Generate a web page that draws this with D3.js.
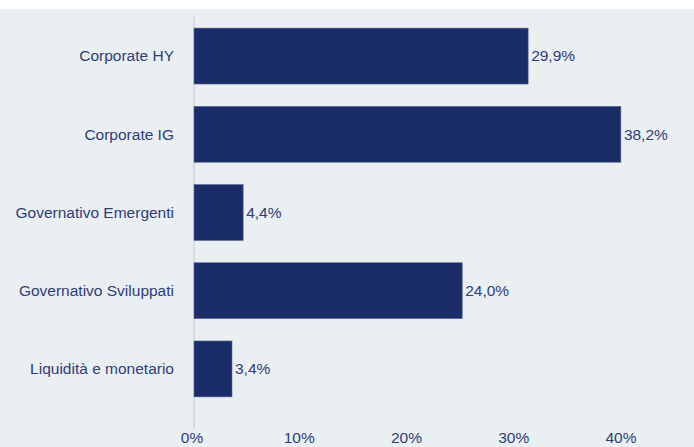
<!DOCTYPE html>
<html>
<head>
<meta charset="utf-8">
<script src="https://cdn.jsdelivr.net/npm/d3@7"></script>
<style>
  body { margin: 0; background: #fff; }
  svg { display: block; font-family: "Liberation Sans", Arial, sans-serif; }
</style>
</head>
<body>
<svg id="chart"></svg>
<script>
// data
const categories = ["Corporate HY", "Corporate IG", "Governativo Emergenti", "Governativo Sviluppati", "Liquidità e monetario"];
const values = [29.9, 38.2, 4.4, 24.0, 3.4];
const tickValues = [0, 10, 20, 30, 40];

const width = 694, height = 447;
const barColor = "#1a2d68";
const textColor = "#2e3d7c";
const fontSize = "15.5px";

const svg = d3.select("#chart")
    .attr("width", width)
    .attr("height", height);

// background panel
svg.append("rect")
    .attr("x", 0).attr("y", 9)
    .attr("width", width).attr("height", height - 9)
    .attr("fill", "#eaeff2");

const x = d3.scaleLinear().domain([0, 40]).range([194, 641]);
// tick labels sit a little tighter than the bars in the original
const xTicks = d3.scaleLinear().domain([0, 40]).range([192, 621]);

const y = d3.scaleBand()
    .domain(categories)
    .range([17, 408])
    .paddingInner(0.285)
    .paddingOuter(0.142);

// axis line
svg.append("line")
    .attr("x1", x(0)).attr("x2", x(0))
    .attr("y1", 17).attr("y2", 428)
    .attr("stroke", "#cfd4d9")
    .attr("stroke-width", 1.5);

const data = categories.map((c, i) => ({ cat: c, val: values[i] }));

svg.selectAll(".bar")
    .data(data)
    .enter()
    .append("rect")
    .attr("class", "bar")
    .attr("x", x(0))
    .attr("y", d => y(d.cat))
    .attr("width", d => x(d.val) - x(0))
    .attr("height", y.bandwidth())
    .attr("fill", barColor)
    .attr("stroke", "#5a6a98")
    .attr("stroke-width", 0.6);

// value labels
svg.selectAll(".val")
    .data(data)
    .enter()
    .append("text")
    .attr("x", d => x(d.val) + 3)
    .attr("y", d => y(d.cat) + y.bandwidth() / 2)
    .attr("dy", "0.35em")
    .attr("font-size", fontSize)
    .attr("fill", textColor)
    .text(d => d.val.toFixed(1).replace(".", ",") + "%");

// category labels
svg.selectAll(".cat")
    .data(categories)
    .enter()
    .append("text")
    .attr("x", 174)
    .attr("y", d => y(d) + y.bandwidth() / 2)
    .attr("dy", "0.35em")
    .attr("text-anchor", "end")
    .attr("font-size", fontSize)
    .attr("fill", textColor)
    .text(d => d);

// x tick labels
svg.selectAll(".tick-label")
    .data(tickValues)
    .enter()
    .append("text")
    .attr("x", d => xTicks(d))
    .attr("y", 438)
    .attr("dy", "0.35em")
    .attr("text-anchor", "middle")
    .attr("font-size", fontSize)
    .attr("fill", textColor)
    .text(d => d + "%");
</script>
</body>
</html>
